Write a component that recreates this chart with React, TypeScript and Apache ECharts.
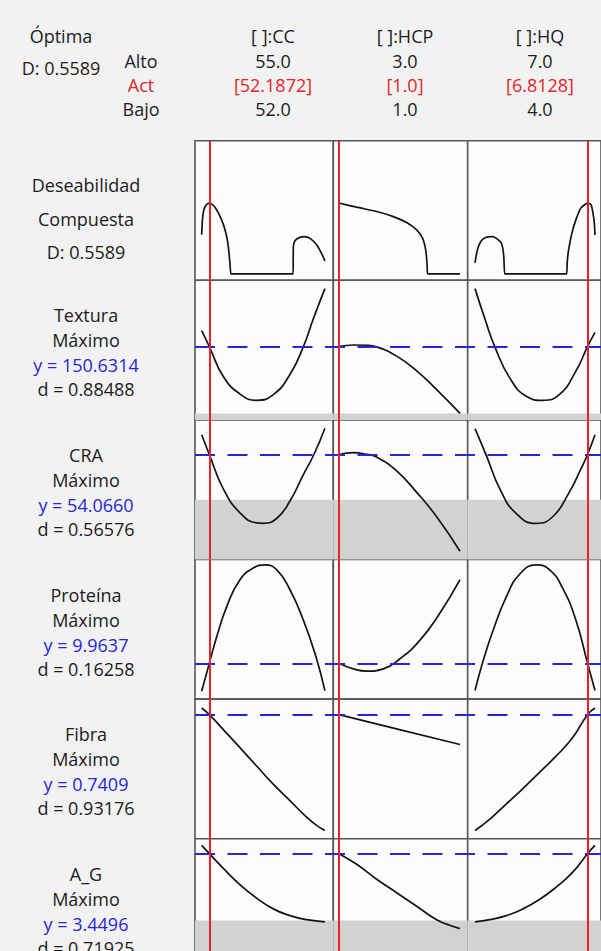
import React, { useEffect, useRef } from "react";
import * as echarts from "echarts";

// ---------- data ----------
const factorNames = ["[ ]:CC", "[ ]:HCP", "[ ]:HQ"];
const factorHigh = ["55.0", "3.0", "7.0"];
const factorLow = ["52.0", "1.0", "4.0"];
const factorHighVal = [55, 3, 7];
const factorLowVal = [52, 1, 4];
const factorCur = [52.1872, 1.0, 6.8128];
const factorCurLabel = ["[52.1872]", "[1.0]", "[6.8128]"];
const settingLabels = ["Alto", "Act", "Bajo"];

const optimalD = 0.5589;
const compositeLabel = ["Deseabilidad", "Compuesta", "D: 0.5589"];

const responseNames = ["Textura", "CRA", "Proteína", "Fibra", "A_G"];
const responseGoals = ["Máximo", "Máximo", "Máximo", "Máximo", "Máximo"];
const responsePred = [150.6314, 54.066, 9.9637, 0.7409, 3.4496];
const responseD = ["d = 0.88488", "d = 0.56576", "d = 0.16258", "d = 0.93176", "d = 0.71925"];
// response value below which individual desirability is 0 (grey zone); null = not in view
const responseLowerBound: (number | null)[] = [100.8, 43.7, null, null, 2.11];

// composite desirability traces
const compCC = [[52.0, 0.31], [52.02, 0.43], [52.05, 0.5], [52.1, 0.54], [52.1872, 0.5589], [52.324, 0.526], [52.486, 0.426], [52.592, 0.32], [52.649, 0.214], [52.689, 0.082], [52.714, 0], [52.76, 0], [54.18, 0], [54.225, 0], [54.232, 0.214], [54.27, 0.262], [54.39, 0.288], [54.51, 0.294], [54.64, 0.28], [54.8, 0.228], [54.92, 0.161], [55.0, 0.103]];
const compHCP = [[1.0, 0.5589], [1.292, 0.526], [1.623, 0.492], [1.898, 0.452], [2.118, 0.405], [2.284, 0.347], [2.383, 0.28], [2.433, 0.188], [2.455, 0.082], [2.466, 0], [2.52, 0], [3.0, 0]];
const compHQ = [[4.0, 0.088], [4.058, 0.188], [4.14, 0.254], [4.248, 0.286], [4.438, 0.294], [4.661, 0.241], [4.719, 0.135], [4.744, 0], [4.79, 0], [6.24, 0], [6.289, 0], [6.306, 0.095], [6.339, 0.188], [6.421, 0.32], [6.521, 0.426], [6.645, 0.519], [6.769, 0.552], [6.8128, 0.5589], [6.901, 0.545], [6.95, 0.479], [6.983, 0.4], [7.0, 0.307]];

// Textura
const texCC = [[52.0, 162.5], [52.1872, 150.63], [52.527, 128.3], [52.932, 115.3], [53.338, 110.6], [53.743, 114.8], [54.149, 129.8], [54.473, 150.4], [54.716, 171.2], [55.0, 193.8]];
const texHCP = [[1.0, 150.63], [1.237, 151.8], [1.457, 151.6], [1.623, 150.4], [1.953, 143.5], [2.284, 132.5], [2.614, 118.5], [3.0, 100.8]];
const texHQ = [[4.0, 193.8], [4.248, 171.2], [4.496, 150.4], [4.868, 127.3], [5.281, 113.6], [5.694, 110.6], [6.107, 114.8], [6.521, 132.3], [6.8128, 150.63], [7.0, 161.2]];

// CRA
const craCC = [[52.0, 58.6], [52.1872, 54.066], [52.527, 46.2], [52.932, 40.7], [53.338, 38.4], [53.5, 38.3], [53.824, 39.4], [54.149, 43.4], [54.473, 49.4], [54.732, 54.066], [55.0, 60.1]];
const craHCP = [[1.0, 54.066], [1.237, 54.5], [1.457, 54.1], [1.623, 53.5], [1.953, 50.3], [2.284, 45.4], [2.614, 39.8], [3.0, 31.9]];
const craHQ = [[4.0, 60.0], [4.289, 53.7], [4.62, 46.2], [5.033, 40.5], [5.529, 38.3], [5.942, 39.8], [6.355, 45.4], [6.645, 50.7], [6.8128, 54.066], [7.0, 58.6]];

// Proteína
const protCC = [[52.0, 9.6], [52.1872, 9.9637], [52.365, 10.3], [52.608, 10.69], [52.932, 11.04], [53.257, 11.19], [53.541, 11.23], [53.824, 11.17], [54.149, 10.91], [54.473, 10.52], [54.757, 10.09], [55.0, 9.61]];
const protHCP = [[1.0, 9.9637], [1.237, 9.89], [1.457, 9.86], [1.733, 9.89], [2.008, 10.02], [2.339, 10.26], [2.669, 10.61], [3.0, 11.04]];
const protHQ = [[4.0, 9.61], [4.207, 10.0], [4.455, 10.39], [4.785, 10.82], [5.116, 11.11], [5.529, 11.23], [5.86, 11.17], [6.19, 10.93], [6.521, 10.52], [6.8128, 9.9637], [7.0, 9.61]];

// Fibra
const fibCC = [[52.0, 0.762], [52.1872, 0.7409], [52.527, 0.694], [52.932, 0.637], [53.338, 0.579], [53.743, 0.522], [54.149, 0.47], [54.554, 0.418], [54.797, 0.392], [55.0, 0.376]];
const fibHCP = [[1.0, 0.7409], [2.0, 0.694], [3.0, 0.647]];
const fibHQ = [[4.0, 0.376], [4.372, 0.412], [4.785, 0.46], [5.198, 0.508], [5.612, 0.559], [6.025, 0.61], [6.438, 0.668], [6.8128, 0.7409], [7.0, 0.762]];

// A_G
const agCC = [[52.0, 3.615], [52.1872, 3.4496], [52.527, 3.156], [52.932, 2.83], [53.338, 2.56], [53.743, 2.344], [54.149, 2.209], [54.554, 2.128], [55.0, 2.085]];
const agHCP = [[1.0, 3.4496], [1.292, 3.237], [1.623, 2.938], [1.953, 2.668], [2.284, 2.398], [2.614, 2.128], [2.89, 1.99], [3.0, 1.95]];
const agHQ = [[4.0, 2.085], [4.372, 2.128], [4.785, 2.209], [5.198, 2.344], [5.612, 2.533], [6.025, 2.776], [6.438, 3.075], [6.8128, 3.4496], [7.0, 3.615]];

const curves = [
  [compCC, compHCP, compHQ],
  [texCC, texHCP, texHQ],
  [craCC, craHCP, craHQ],
  [protCC, protHCP, protHQ],
  [fibCC, fibHCP, fibHQ],
  [agCC, agHCP, agHQ],
];

// ---------- layout / style ----------
const W = 601;
const H = 951;
const COL_X = [195, 333.3, 467.7];
const COL_W = [138.3, 134.4, 134.4];
const PAD_L = [0.054, 0.047, 0.061];
const PAD_R = [0.068, 0.0635, 0.05];
const ROW_Y0 = 140.7;
const ROW_H = 139.6;
const ROW_RANGE = [[-0.05, 1.05], [96, 200], [30, 62], [9.5, 11.3], [0.35, 0.79], [1.5, 3.75]];

const FONT = '"Open Sans", "Noto Sans", sans-serif';
const FS = 18;
const BLACK = "#1c1c1c";
const BLUE = "#2626d8";
const RED = "#e1252b";

function txt(text: string, x: number, y: number, fill = BLACK) {
  return {
    type: "text",
    x,
    y,
    silent: true,
    style: { text, fill, fontSize: FS, fontFamily: FONT, align: "center", verticalAlign: "middle" },
  };
}

function buildOption() {
  const grid: any[] = [];
  const xAxis: any[] = [];
  const yAxis: any[] = [];
  const series: any[] = [];
  const graphic: any[] = [];

  for (let r = 0; r < 6; r++) {
    for (let c = 0; c < 3; c++) {
      const g = grid.length;
      const span = factorHighVal[c] - factorLowVal[c];
      grid.push({
        left: COL_X[c],
        top: ROW_Y0 + r * ROW_H,
        width: COL_W[c],
        height: ROW_H,
        show: true,
        backgroundColor: "#fcfcfc",
        borderColor: "#575757",
        borderWidth: 1.6,
        z: 0,
      });
      xAxis.push({
        type: "value",
        gridIndex: g,
        min: factorLowVal[c] - PAD_L[c] * span,
        max: factorHighVal[c] + PAD_R[c] * span,
        show: false,
      });
      yAxis.push({ type: "value", gridIndex: g, min: ROW_RANGE[r][0], max: ROW_RANGE[r][1], show: false });
      const lb = r > 0 ? responseLowerBound[r - 1] : null;
      series.push({
        type: "line",
        xAxisIndex: g,
        yAxisIndex: g,
        data: curves[r][c],
        showSymbol: false,
        symbol: "none",
        smooth: r === 0 ? 0.25 : 0.5,
        clip: true,
        silent: true,
        z: 3,
        lineStyle: { color: "#141414", width: 1.7 },
        markArea:
          lb != null
            ? {
                silent: true,
                itemStyle: { color: "#d2d2d2" },
                data: [[{ yAxis: ROW_RANGE[r][0] }, { yAxis: lb }]],
              }
            : undefined,
        markLine: {
          silent: true,
          symbol: ["none", "none"],
          label: { show: false },
          z: 6,
          lineStyle: { color: RED, width: 2, type: "solid" },
          data: [{ xAxis: factorCur[c] }],
        },
      });
    }
  }

  // row-spanning grids for the predicted-response dashed lines
  for (let r = 1; r < 6; r++) {
    const g = grid.length;
    grid.push({
      left: COL_X[0],
      top: ROW_Y0 + r * ROW_H,
      width: COL_X[2] + COL_W[2] - COL_X[0],
      height: ROW_H,
      show: false,
    });
    xAxis.push({ type: "value", gridIndex: g, min: 0, max: 1, show: false });
    yAxis.push({ type: "value", gridIndex: g, min: ROW_RANGE[r][0], max: ROW_RANGE[r][1], show: false });
    series.push({
      type: "line",
      xAxisIndex: g,
      yAxisIndex: g,
      data: [],
      silent: true,
      z: 5,
      markLine: {
        silent: true,
        symbol: ["none", "none"],
        label: { show: false },
        lineStyle: { color: BLUE, width: 2, type: [20, 12.5] },
        data: [{ yAxis: responsePred[r - 1] }],
      },
    });
  }

  // header
  graphic.push(txt("Óptima", 61, 36));
  graphic.push(txt("D: " + optimalD.toFixed(4), 61, 68));
  const hy = [61, 85, 109];
  graphic.push(txt(settingLabels[0], 141, hy[0]));
  graphic.push(txt(settingLabels[1], 141, hy[1], RED));
  graphic.push(txt(settingLabels[2], 141, hy[2]));
  const hx = [273, 405, 540];
  for (let c = 0; c < 3; c++) {
    graphic.push(txt(factorNames[c], hx[c], 36));
    graphic.push(txt(factorHigh[c], hx[c], hy[0]));
    graphic.push(txt(factorCurLabel[c], hx[c], hy[1], RED));
    graphic.push(txt(factorLow[c], hx[c], hy[2]));
  }

  // left labels
  const LX = 86;
  const compOff = [44, 78, 111];
  compositeLabel.forEach((t, i) => graphic.push(txt(t, LX, ROW_Y0 + compOff[i])));
  const off = [35, 60, 85, 109];
  for (let r = 1; r < 6; r++) {
    const top = ROW_Y0 + r * ROW_H;
    graphic.push(txt(responseNames[r - 1], LX, top + off[0]));
    graphic.push(txt(responseGoals[r - 1], LX, top + off[1]));
    graphic.push(txt("y = " + responsePred[r - 1].toFixed(4), LX, top + off[2], BLUE));
    graphic.push(txt(responseD[r - 1], LX, top + off[3]));
  }

  return {
    animation: false,
    backgroundColor: "#f2f2f2",
    grid,
    xAxis,
    yAxis,
    series,
    graphic,
  };
}

export default function App() {
  const ref = useRef<HTMLDivElement>(null);
  useEffect(() => {
    if (!ref.current) return;
    const chart = echarts.init(ref.current, undefined, { renderer: "svg", width: W, height: H });
    chart.setOption(buildOption() as any);
    return () => chart.dispose();
  }, []);
  return (
    <div
      ref={ref}
      style={{ position: "absolute", left: 0, top: 0, width: W, height: H, background: "#f2f2f2" }}
    />
  );
}
